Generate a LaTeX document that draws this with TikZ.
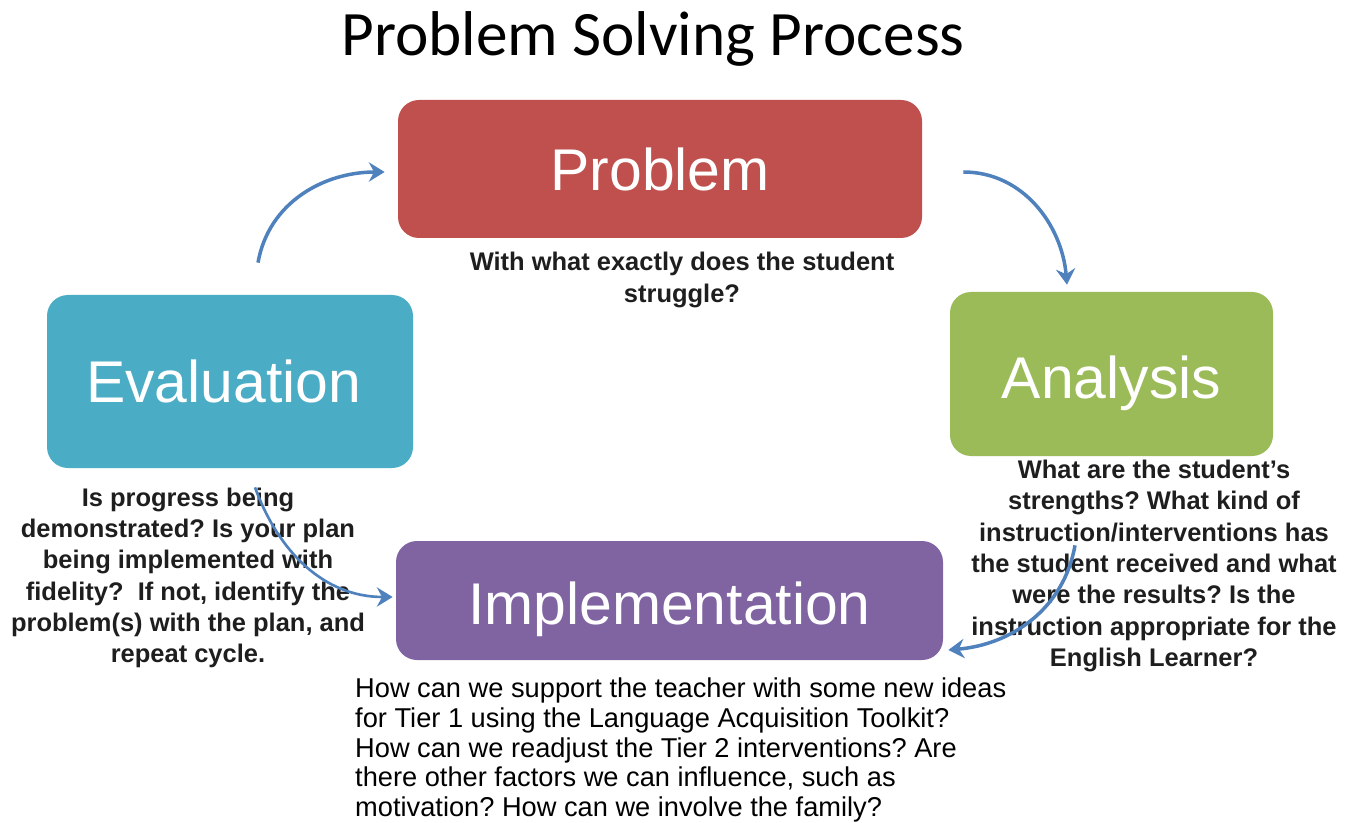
\documentclass[tikz,border=0pt]{standalone}
\usepackage{fontspec}
\usepackage{tikz}
\usetikzlibrary{positioning,calc}
\usetikzlibrary{arrows.meta}
\setmainfont{Liberation Sans}
\newfontfamily\titlefont{Carlito}
\frenchspacing
\definecolor{probred}{RGB}{192, 80, 77}
\definecolor{anagreen}{RGB}{155, 187, 89}
\definecolor{evalblue}{RGB}{75, 172, 198}
\definecolor{implpurple}{RGB}{128, 100, 162}
\definecolor{cycleblue}{RGB}{79, 129, 189}
\definecolor{qtext}{RGB}{30, 30, 30}

\begin{document}
\begin{tikzpicture}[
        stage/.style={rounded corners=0.42cm, text=white, font=\fontsize{33.5}{40}\selectfont, inner sep=0pt},
        question/.style={align=center, text=qtext, font=\fontsize{14.5}{17.8}\selectfont\bfseries},
        cycle/.style={line width=2pt, cycleblue, -{Stealth[length=9pt,width=11pt,inset=3pt]}}
    ]
        \useasboundingbox (0,0) rectangle (27.14,-16.46);

        % Title
        \node (title) at (13.06,-0.78) {\titlefont\fontsize{36}{40}\selectfont Problem Solving Process};

        % Stages
        \node[stage, fill=probred, minimum width=10.48cm, minimum height=2.76cm] (prob) at (13.2,-3.38) {Problem};
        \node[stage, fill=anagreen, minimum width=6.46cm, minimum height=3.28cm] (ana) at (22.23,-7.48) {\raisebox{-0.48cm}[0pt][0pt]{Analysis}};
        \node[stage, fill=evalblue, minimum width=7.32cm, minimum height=3.46cm] (eval) at (4.6,-7.63) {\hspace*{-0.25cm}Evaluation};
        \node[stage, fill=implpurple, minimum width=10.94cm, minimum height=2.38cm] (impl) at (13.39,-12.01) {\raisebox{-0.47cm}[0pt][0pt]{Implementation}};

        % Questions
        \node[question] (probq) at (13.64,-5.6) {With what exactly does the student\\struggle?};
        \node[question] (anaq) at (23.08,-11.32) {What are the student's\\strengths? What kind of\\instruction/interventions has\\the student received and what\\were the results? Is the\\instruction appropriate for the\\English Learner?};
        \node[question] (evalq) at (3.76,-11.56) {Is progress being\\demonstrated? Is your plan\\being implemented with\\fidelity?\ \ If not, identify the\\problem(s) with the plan, and\\repeat cycle.};
        \node[align=left, anchor=west, text=black, font=\fontsize{15.5}{16.9}\selectfont] (implq) at (6.98,-15.0) {How can we support the teacher with some new ideas\\for Tier 1 using the Language Acquisition Toolkit?\\How can we readjust the Tier 2 interventions? Are\\there other factors we can influence, such as\\motivation? How can we involve the family?};

        % Arrows
        \draw[cycle] ([shift={(0.56,0.64)}]eval.north) to[out=80,in=180] ([shift={(-0.26,-0.06)}]prob.west);
        \draw[cycle] ([shift={(0.82,-0.06)}]prob.east) to[out=0,in=95] ([shift={(-0.89,0.14)}]ana.north);
        \draw[cycle] ([shift={(-0.73,-1.78)}]ana.south) to[out=-100,in=5] ([shift={(0.1,-0.99)}]impl.east);
        \draw[cycle, line width=1.5pt] ([shift={(0.5,-0.38)}]eval.south) to[out=-70,in=180] ([shift={(-0.06,0.07)}]impl.west);
\end{tikzpicture}
\end{document}
